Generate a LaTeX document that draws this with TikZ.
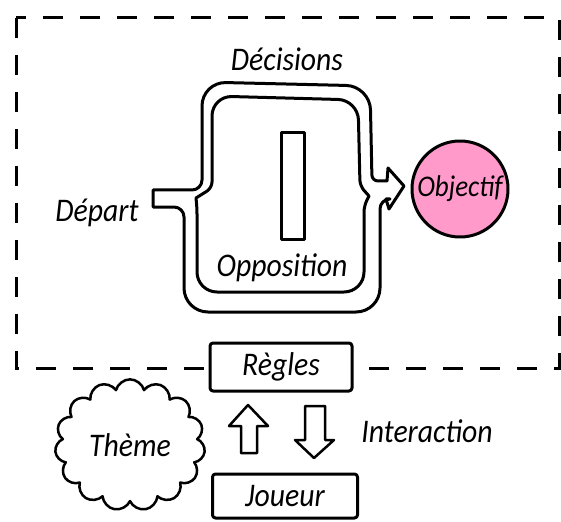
\documentclass[tikz,border=0pt]{standalone}
\usepackage{fontspec}
\setmainfont{Carlito}[FakeStretch=0.9]
\usetikzlibrary{shapes.symbols}
\definecolor{goalpink}{HTML}{FF9ACB}

\begin{document}
\begin{tikzpicture}[x=1pt,y=-1pt,
  every node/.style={font=\itshape\fontsize{33}{36}\selectfont},
  sketch/.style={line width=3pt,line cap=round,line join=round},
  box/.style={sketch,draw,fill=white,rounded corners=3pt,inner sep=0pt,minimum width=142pt,minimum height=48pt},
  frame/.style={line width=3pt,dash pattern=on 20pt off 17pt}]
\useasboundingbox (0,0) rectangle (561,521);
\clip (0,0) rectangle (561,521);
%\draw (0,0) rectangle (561,521);

\draw[frame] (16,18) rectangle (559,368);

% the two ways from start to goal
\draw[sketch] (153,190) [rounded corners=10pt] -- (202,190) [rounded corners=24pt] -- (202,82)
  -- (370,86) [rounded corners=6pt] -- (372,181) [sharp corners] -- (387,181) -- (388,168)
  -- (404,186) -- (389,209) -- (386,199) [rounded corners=10pt] -- (380,199) [rounded corners=24pt]
  -- (380,312) -- (184,312) [rounded corners=10pt] -- (184,207) [sharp corners] -- (153,207) -- cycle;
\draw[sketch] (196,198) [rounded corners=6pt] -- (212,188) [rounded corners=20pt] -- (212,96)
  -- (358,100) [rounded corners=6pt] -- (360,186) [sharp corners] -- (369,196) [rounded corners=6pt]
  -- (364,206) [rounded corners=20pt] -- (364,292) -- (197,292) [rounded corners=6pt] -- (197,208)
  [sharp corners] -- cycle;

\draw (293,186) node[sketch,draw,line width=2.5pt,minimum width=23pt,minimum height=107pt] (wall) {};

\draw (97,221) node[anchor=base] (dep) {Départ};
\draw (287,71) node[anchor=base] (dec) {Décisions};
\draw (282,276) node[anchor=base] (opp) {Opposition};
\draw (460,189) node[sketch,draw,circle,fill=goalpink,minimum size=96pt,inner sep=0pt,
  font=\itshape\fontsize{30}{32}\selectfont] (obj) {Objectif};

\draw (281,367) node[box] (reg) {Règles};
\draw (285,496) node[box,minimum width=145pt,minimum height=44pt] (jou) {Joueur};
\draw (130,445) node[sketch,draw,line width=2.5pt,cloud,cloud puffs=15,inner sep=0pt,
  minimum width=150pt,minimum height=88pt] (thm) {Thème};
\draw (427,442) node[anchor=base] (inter) {Interaction};

\draw[sketch,line width=2.5pt] (241,453) -- (241,426) -- (229,426) -- (248,405) -- (268,426)
  -- (257,426) -- (257,453) -- cycle;
\draw[sketch,line width=2.5pt] (305,406) -- (325,406) -- (325,440) -- (334,440) -- (314,458)
  -- (295,440) -- (305,440) -- cycle;
\end{tikzpicture}
\end{document}
